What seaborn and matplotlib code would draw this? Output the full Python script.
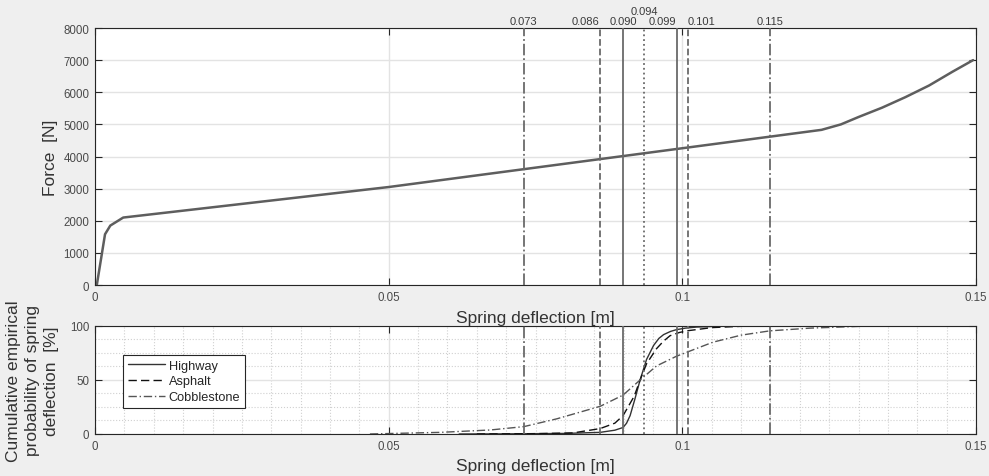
import matplotlib
matplotlib.use("Agg")
import matplotlib.pyplot as plt
from matplotlib.ticker import MultipleLocator, FuncFormatter
import seaborn as sns
import numpy as np

# force-deflection characteristic of the spring
force_x = [0.0003, 0.0017, 0.0026, 0.0048, 0.05, 0.1237, 0.127, 0.130, 0.134, 0.138, 0.142, 0.146, 0.1495]
force_y = [0, 1580, 1850, 2100, 3050, 4830, 5000, 5230, 5520, 5850, 6210, 6640, 7000]

# empirical CDFs of spring deflection per road surface
highway_x = [0.062, 0.070, 0.080, 0.086, 0.0885, 0.0899, 0.0905, 0.0911, 0.0919, 0.0928, 0.0939,
             0.0951, 0.0960, 0.0968, 0.0980, 0.0990, 0.1005, 0.1024, 0.106, 0.110]
highway_y = [0, 0.1, 0.5, 1.5, 3.5, 6, 10, 17, 32, 50, 69,
             82, 88.5, 92, 95, 96.6, 98, 99, 99.7, 100]
asphalt_x = [0.065, 0.075, 0.0814, 0.086, 0.0885, 0.0899, 0.0918, 0.0928, 0.0939, 0.0956, 0.0968,
             0.0979, 0.0995, 0.1009, 0.105, 0.110, 0.115]
asphalt_y = [0, 0.3, 1, 5, 10, 17, 35, 50, 65, 79, 86,
             91, 94, 95.6, 98.5, 99.7, 100]
cobble_x = [0.0468, 0.0588, 0.0673, 0.0730, 0.0786, 0.0860, 0.0899, 0.0928, 0.0956, 0.0990, 0.1052,
            0.1100, 0.1149, 0.1217, 0.1303, 0.1365]
cobble_y = [0, 1.5, 3.7, 6.8, 14, 25.6, 36, 50, 63, 72, 85,
            91.5, 95.5, 98, 99.7, 100]

# percentile markers (5 % / 95 % per surface, median overall)
marker_vals = [0.073, 0.086, 0.090, 0.094, 0.099, 0.101, 0.115]
marker_pos = [0.073, 0.0859, 0.0899, 0.0935, 0.0990, 0.1009, 0.1149]
marker_style = ['-.', '--', '-', ':', '-', '--', '-.']
marker_ha = ['center', 'right', 'center', 'center', 'right', 'left', 'center']
marker_raise = [False, False, False, True, False, False, False]

sns.set_style("whitegrid")
plt.rcParams['font.family'] = ['Liberation Sans', 'DejaVu Sans']
bg = '#efefef'
tick_col = '#4a4a4a'
line_grey = '#6a6a6a'

fig = plt.figure(figsize=(9.89, 4.77), dpi=100, facecolor=bg)
ax1 = fig.add_axes([0.0961, 0.4004, 0.8908, 0.5388])
ax2 = fig.add_axes([0.0961, 0.0881, 0.8908, 0.2264])

fmt = FuncFormatter(lambda v, p: '%g' % round(v, 4))

# ---- top: force curve
sns.lineplot(x=force_x, y=force_y, ax=ax1, color='#5e5e5e', linewidth=1.8, sort=False)
ax1.set_xlim(0, 0.15)
ax1.set_ylim(0, 8000)
ax1.xaxis.set_major_locator(MultipleLocator(0.05))
ax1.yaxis.set_major_locator(MultipleLocator(1000))
ax1.xaxis.set_major_formatter(fmt)
ax1.set_xlabel('Spring deflection [m]', fontsize=12.5, color='#333333', labelpad=5)
ax1.set_ylabel('Force  [N]', fontsize=12.5, color='#333333', labelpad=4)

for v, p, ls, ha, up in zip(marker_vals, marker_pos, marker_style, marker_ha, marker_raise):
    ax1.axvline(p, color=line_grey, linestyle=ls, linewidth=1.3, zorder=3)
    ax2.axvline(p, color=line_grey, linestyle=ls, linewidth=1.3, zorder=3)
    ax1.text(p, 1.045 if up else 1.008, '%.3f' % v, transform=ax1.get_xaxis_transform(),
             ha=ha, va='bottom', fontsize=8, color='#3a3a3a')

# ---- bottom: empirical CDFs
sns.lineplot(x=highway_x, y=highway_y, ax=ax2, color='#333333', linewidth=1.0, linestyle='-', label='Highway')
sns.lineplot(x=asphalt_x, y=asphalt_y, ax=ax2, color='#111111', linewidth=1.0, linestyle=(0, (6, 3)), label='Asphalt')
sns.lineplot(x=cobble_x, y=cobble_y, ax=ax2, color='#555555', linewidth=1.0, linestyle=(0, (6, 2, 1, 2)), label='Cobblestone')
ax2.set_xlim(0, 0.15)
ax2.set_ylim(0, 100)
ax2.xaxis.set_major_locator(MultipleLocator(0.05))
ax2.xaxis.set_minor_locator(MultipleLocator(0.005))
ax2.yaxis.set_major_locator(MultipleLocator(50))
ax2.yaxis.set_minor_locator(MultipleLocator(12.5))
ax2.xaxis.set_major_formatter(fmt)
ax2.set_xlabel('Spring deflection [m]', fontsize=12.5, color='#333333', labelpad=5)
ax2.set_ylabel('Cumulative empirical\nprobability of spring\ndeflection  [%]', fontsize=12.5,
               color='#333333', labelpad=8, linespacing=1.35)
ax2.grid(which='minor', color='#d0d0d0', linestyle=':', linewidth=0.8)

leg = ax2.legend(loc='upper left', bbox_to_anchor=(0.025, 0.79), fontsize=9.2, frameon=True,
                 fancybox=False, handlelength=2.9, borderpad=0.35, labelspacing=0.3,
                 handletextpad=0.3)
leg.get_frame().set_edgecolor('#262626')
leg.get_frame().set_linewidth(0.8)
leg.get_frame().set_facecolor('white')
leg.get_frame().set_alpha(1)

for ax in (ax1, ax2):
    ax.set_facecolor('white')
    ax.grid(which='major', color='#e3e3e3', linestyle='-', linewidth=1.0)
    ax.set_axisbelow(True)
    for s in ax.spines.values():
        s.set_visible(True)
        s.set_color('#262626')
        s.set_linewidth(0.8)
    ax.tick_params(axis='both', which='major', direction='in', length=5, width=0.8,
                   labelsize=8.3, labelcolor=tick_col, color='#262626',
                   left=True, right=True, bottom=True, top=True, pad=4)
    ax.tick_params(axis='both', which='minor', length=0)

fig.savefig('out.png', dpi=100, facecolor=bg)
